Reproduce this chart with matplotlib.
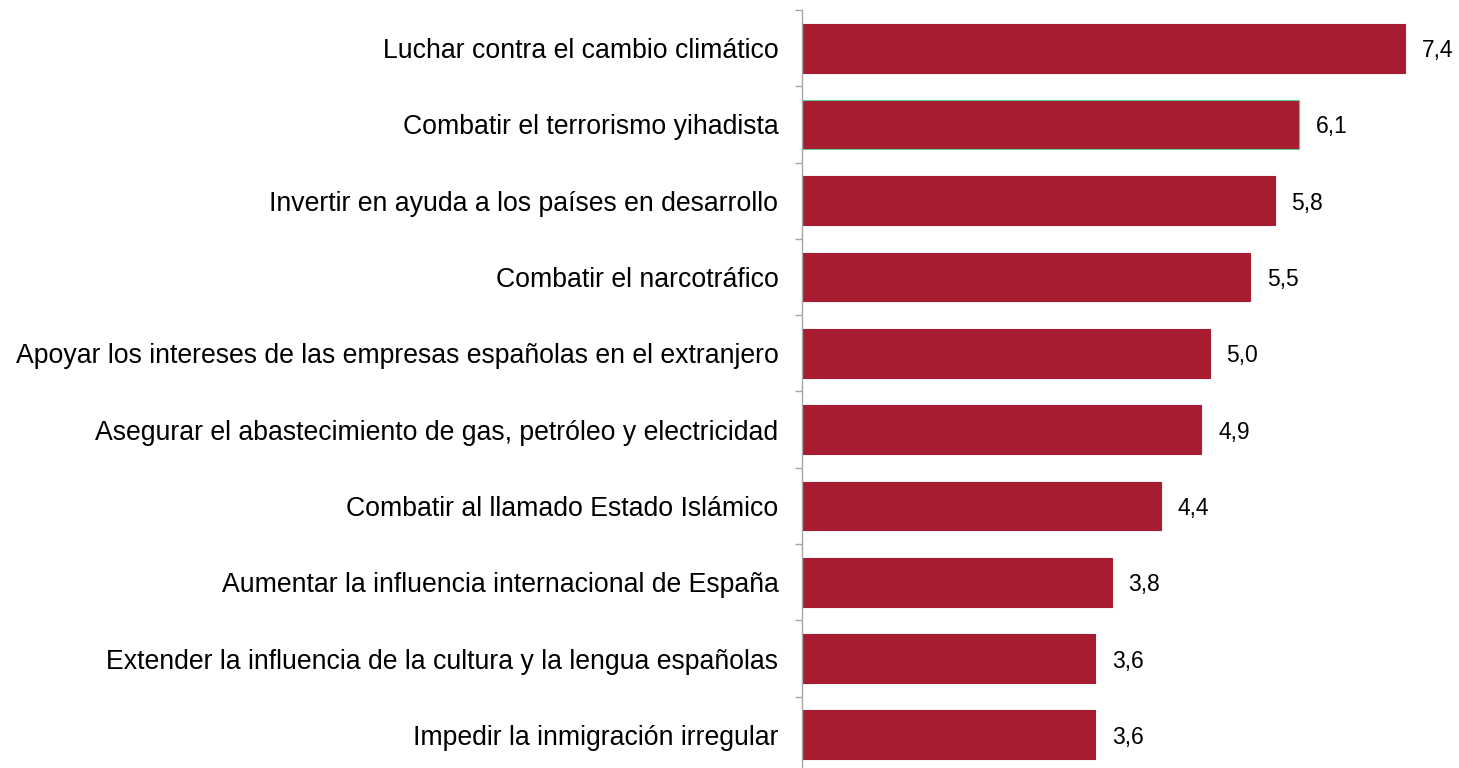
import matplotlib
matplotlib.use("Agg")
import matplotlib.pyplot as plt
import numpy as np

categories = [
    "Luchar contra el cambio climático",
    "Combatir el terrorismo yihadista",
    "Invertir en ayuda a los países en desarrollo",
    "Combatir el narcotráfico",
    "Apoyar los intereses de las empresas españolas en el extranjero",
    "Asegurar el abastecimiento de gas, petróleo y electricidad",
    "Combatir al llamado Estado Islámico",
    "Aumentar la influencia internacional de España",
    "Extender la influencia de la cultura y la lengua españolas",
    "Impedir la inmigración irregular",
]
values = [7.4, 6.1, 5.8, 5.5, 5.0, 4.9, 4.4, 3.8, 3.6, 3.6]
value_labels = [f"{v:.1f}".replace(".", ",") for v in values]

BAR = "#A71C31"
AXIS = "#A6A6A6"

plt.rcParams["font.family"] = ["Liberation Sans", "DejaVu Sans"]

fig = plt.figure(figsize=(14.59, 7.68), dpi=100)
ax = fig.add_axes([802 / 1459, -5 / 768, 655 / 1459, 763 / 768])

y = np.arange(len(categories))
bars = ax.barh(y, values, height=0.64, color=BAR, edgecolor=BAR, linewidth=0.8)
# the second bar has a thin green outline in the original
bars[1].set_edgecolor("#5CCB8F")

texts = ax.bar_label(bars, labels=value_labels, padding=12, fontsize=16.5, color="black")
for t in texts:
    t.set_verticalalignment("center_baseline")

ax.set_ylim(len(categories) - 0.5, -0.5)
ax.set_xlim(0, 655 / 81.5)

ax.set_yticks(y)
ax.set_yticklabels(categories, fontsize=19.2)
ax.tick_params(axis="y", which="major", length=0, pad=17)
ax.set_yticks(np.arange(-0.5, len(categories), 1.0), minor=True)
ax.tick_params(axis="y", which="minor", length=5, width=1, color=AXIS, direction="out")

ax.set_xticks([])
for side in ("top", "right", "bottom"):
    ax.spines[side].set_visible(False)
ax.spines["left"].set_color(AXIS)
ax.spines["left"].set_linewidth(1)

fig.savefig("out.png", dpi=100)
